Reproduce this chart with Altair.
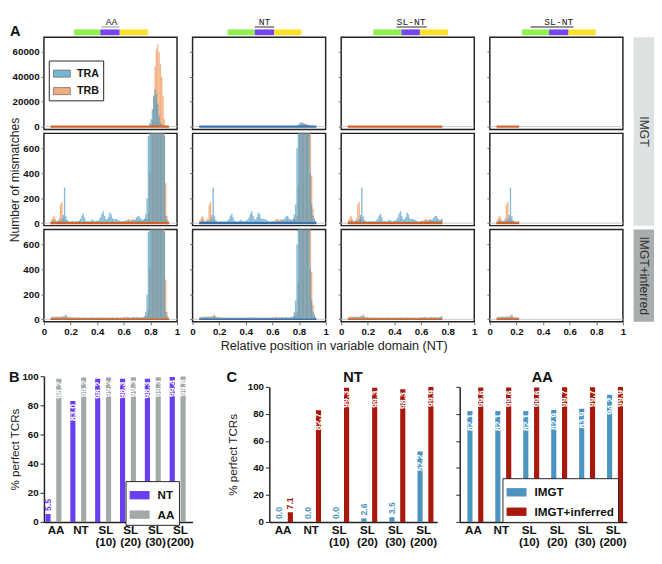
import altair as alt
import pandas as pd

FONT = "Liberation Sans"

# ---------------- Panel A: mismatch counts per 0.01 bin ----------------
BIN_WIDTH = 0.01
BINS = [round(0.05 + 0.01 * i, 2) for i in range(90)]  # bin starts 0.05 ... 0.94

# background region, bins 0.05 ... 0.76 (72 bins)
LOW_TRA_IMGT = [
    10, 15, 25, 15, 12, 18, 20, 22, 30, 65,
    285, 55, 25, 15, 12, 14, 18, 12, 15, 18,
    14, 22, 35, 60, 75, 45, 20, 15, 12, 16,
    22, 28, 20, 14, 18, 22, 28, 45, 75, 95,
    60, 35, 30, 50, 85, 70, 40, 30, 35, 32,
    25, 20, 15, 12, 15, 18, 12, 15, 20, 18,
    15, 22, 25, 30, 45, 55, 60, 40, 30, 25,
    35, 70]
LOW_TRB_IMGT = [
    25, 45, 60, 35, 18, 22, 40, 150, 170, 45,
    25, 18, 15, 12, 10, 12, 15, 10, 12, 10,
    12, 15, 12, 10, 14, 12, 10, 12, 15, 12,
    10, 12, 10, 12, 15, 12, 10, 12, 14, 12,
    10, 12, 15, 12, 10, 12, 14, 12, 10, 12,
    15, 12, 10, 12, 15, 18, 22, 28, 35, 32,
    25, 35, 28, 20, 15, 18, 22, 18, 15, 20,
    30, 35]
LOW_TRA_INF = [
    12, 15, 10, 18, 14, 20, 16, 12, 18, 22,
    15, 25, 18, 12, 15, 10, 14, 12, 16, 10,
    12, 15, 10, 14, 12, 10, 15, 12, 10, 14,
    12, 16, 10, 12, 14, 10, 12, 15, 12, 14,
    10, 12, 15, 12, 14, 10, 12, 15, 10, 12,
    14, 10, 12, 10, 14, 12, 10, 15, 12, 10,
    14, 12, 16, 12, 14, 18, 15, 12, 14, 18,
    25, 60]
LOW_TRB_INF = [
    15, 20, 25, 18, 22, 15, 20, 25, 18, 22,
    30, 40, 25, 15, 20, 14, 12, 15, 10, 12,
    14, 12, 10, 15, 12, 14, 10, 12, 15, 12,
    10, 14, 12, 10, 12, 15, 12, 10, 14, 12,
    15, 12, 10, 12, 14, 12, 15, 10, 12, 14,
    12, 10, 15, 12, 14, 18, 15, 20, 16, 14,
    12, 15, 18, 14, 12, 15, 12, 14, 16, 12,
    15, 30]

# peak region, bins 0.77 ... 0.94 (18 bins)
AA_PEAK_TRA = [200, 700, 2500, 6000, 14000, 24000, 30000, 26000, 18000,
               9000, 3500, 1800, 1000, 700, 60, 25, 10, 0]
AA_PEAK_TRB = [30, 80, 400, 1500, 5000, 25000, 48000, 62000, 66000,
               60000, 50000, 40000, 25000, 6000, 320, 60, 20, 0]
NT_PEAK_TRA = [150, 600, 1500, 2800, 3400, 3200, 2500, 1800, 1200,
               900, 750, 400, 150, 60, 30, 15, 0, 0]
NT_PEAK_TRB = [20, 60, 300, 800, 1500, 2200, 2500, 2400, 2200,
               1800, 1200, 900, 380, 115, 40, 15, 0, 0]

COLUMN_LABELS = ["AA", "NT", "SL-NT", "SL-NT"]
COLUMN_XMAX = [1.0, 1.0, 0.755, 0.215]
ROW_LABELS = ["IMGT", "IMGT+inferred"]

# ---------------- Panels B and C ----------------
CATS = ["AA", "NT", "SL (10)", "SL (20)", "SL (30)", "SL (200)"]
B_SERIES = ["NT", "AA"]
B_NT = [5.5, 83.0, 98.2, 98.3, 98.3, 99.4]
B_AA = [98.2, 99.2, 99.2, 99.3, 99.3, 99.8]

C_SERIES = ["IMGT", "IMGT+inferred"]
C_NT_IMGT = [0.0, 0.0, 0.0, 2.6, 3.5, 52.2]
C_NT_INF = [7.1, 82.7, 99.3, 99.3, 98.3, 99.9]
C_AA_IMGT = [82.1, 82.1, 82.1, 82.9, 83.9, 94.2]
C_AA_INF = [99.6, 99.6, 99.6, 99.7, 99.7, 99.9]

# ---------------- styles ----------------
TRA_COLOR = "#3f98c4"
TRB_COLOR = "#f08a48"
GREEN, PURPLE, YELLOW = "#8ff04f", "#7446ee", "#ffdf2a"
B_COLORS = ["#6a3ff0", "#a3a8a8"]
C_COLORS = ["#4d93bf", "#a8190c"]
WIDE = "M-1,-0.42L1,-0.42L1,0.42L-1,0.42Z"

DECO = [
    dict(segs=[(31, 58), (58, 78), (78, 107)], u=(59, 78), cx=69.5, line="#aab4bd"),
    dict(segs=[(36, 64), (64, 84), (84, 112)], u=(64, 84), cx=74, line="#6f6f6f"),
    dict(segs=[(33, 62), (62, 81), (81, 110)], u=(57, 88), cx=72, line="#6f6f6f"),
    dict(segs=[(33, 61), (61, 81), (81, 109)], u=(42, 86), cx=71, line="#6f6f6f"),
]
BAND_COLORS = ["#d0622a", "#3a72b0", "#d0622a", "#d0622a"]
PH = 95      # histogram panel height
BH = 150     # bar panel height

ONE = pd.DataFrame({"k": [0]})
XS = alt.Scale(domain=[0, 1], nice=False, zero=False)
CHAIN_SCALE = alt.Scale(domain=["TRA", "TRB"], range=[TRA_COLOR, TRB_COLOR])


def hist_frame(tra, trb, xmax):
    recs = []
    for chain, vals in (("TRB", trb), ("TRA", tra)):
        for b, v in zip(BINS, vals):
            if b < xmax:
                recs.append({"x0": b, "x1": round(b + BIN_WIDTH, 3), "chain": chain, "n": v})
    return pd.DataFrame(recs)


def deco_layers(col):
    d = DECO[col]
    out = []
    for (a, b), colr in zip(d["segs"], [GREEN, PURPLE, YELLOW]):
        out.append(alt.Chart(ONE).mark_rect(color=colr).encode(
            x=alt.value(a), x2=alt.value(b), y=alt.value(-8), y2=alt.value(-2)))
    out.append(alt.Chart(ONE).mark_rule(color=d["line"], strokeWidth=1.5).encode(
        x=alt.value(d["u"][0]), x2=alt.value(d["u"][1]), y=alt.value(-10.5)))
    out.append(alt.Chart(ONE).mark_text(
        text=COLUMN_LABELS[col], font="Liberation Mono", fontSize=10, color="#222",
        align="center", baseline="alphabetic").encode(x=alt.value(d["cx"]), y=alt.value(-13)))
    return out


def hist_panel(df, row, col):
    ydom = [-2300, 71800] if row == 0 else [-20, 720]
    yvals = [0, 20000, 40000, 60000] if row == 0 else [0, 200, 400, 600]
    ys = alt.Scale(domain=ydom, nice=False, zero=False)
    yaxis = alt.Axis(values=yvals, format="d", labels=(col == 0), tickSize=3,
                     tickColor="#666", domain=False, grid=False, labelFontSize=10,
                     labelFontWeight="bold", labelColor="#111", labelPadding=2,
                     title=("Number of mismatches" if (col == 0 and row == 1) else None),
                     titleFontSize=12.5, titleFontWeight="normal", titleColor="#222",
                     titlePadding=1)
    if row == 2:
        xaxis = alt.Axis(values=[0, 0.2, 0.4, 0.6, 0.8, 1], format="~g", tickSize=3,
                         tickColor="#666", domain=False, grid=False, labelFontSize=10,
                         labelFontWeight="bold", labelColor="#111", labelPadding=2,
                         labelFlush=False, title=None)
    else:
        xaxis = None
    if row == 0 and col == 0:
        legend = alt.Legend(title=None, orient="none", legendX=5, legendY=24,
                            direction="vertical", symbolType=WIDE, symbolSize=300,
                            symbolStrokeColor="#333", symbolStrokeWidth=0.8,
                            symbolOpacity=0.7, labelFontSize=11, labelFontWeight="bold",
                            labelColor="#111", strokeColor="#222", fillColor="white",
                            padding=4, rowPadding=3, labelOffset=6)
    else:
        legend = None
    bars = alt.Chart(df).mark_bar(opacity=0.66, clip=True).encode(
        x=alt.X("x0:Q", scale=XS, axis=xaxis),
        x2="x1:Q",
        y=alt.Y("n:Q", scale=ys, axis=yaxis, stack=None),
        y2=alt.Y2(datum=0),
        color=alt.Color("chain:N", scale=CHAIN_SCALE, legend=legend),
    )
    zero = alt.Chart(ONE).mark_rule(color="#c8c8c8", strokeWidth=1).encode(
        y=alt.Y(datum=0, scale=ys, axis=yaxis))
    band = alt.Chart(df).transform_filter("datum.n > 0").mark_rule(
        color=BAND_COLORS[col], strokeWidth=2.2 if row < 2 else 1.6).encode(
        x=alt.X("x0:Q", aggregate="min", scale=XS, axis=xaxis),
        x2=alt.X2("x1", aggregate="max"),
        y=alt.Y(datum=0, scale=ys, axis=yaxis))
    layers = [bars, zero, band]
    if row == 0:
        layers += deco_layers(col)
        if col == 0:
            layers.append(alt.Chart(ONE).mark_text(
                text="A", fontSize=15, fontWeight="bold", align="left",
                baseline="alphabetic", color="#111").encode(x=alt.value(-35), y=alt.value(-1)))
    return alt.layer(*layers).properties(
        width=137, height=PH, view=alt.ViewBackground(stroke="#222", strokeWidth=1.5))


def strip(label, fill, h):
    return alt.Chart(ONE).mark_text(
        text=label, angle=90, fontSize=12.5, color="#333", align="center",
        baseline="middle").encode(x=alt.value(10.5), y=alt.value(h / 2)).properties(
        width=21, height=h, view=alt.ViewBackground(fill=fill, stroke=None))


columns = []
for c in range(4):
    if c == 0:
        imgt = hist_frame(LOW_TRA_IMGT + AA_PEAK_TRA, LOW_TRB_IMGT + AA_PEAK_TRB, COLUMN_XMAX[c])
        inf = hist_frame(LOW_TRA_INF + AA_PEAK_TRA, LOW_TRB_INF + AA_PEAK_TRB, COLUMN_XMAX[c])
    else:
        imgt = hist_frame(LOW_TRA_IMGT + NT_PEAK_TRA, LOW_TRB_IMGT + NT_PEAK_TRB, COLUMN_XMAX[c])
        inf = hist_frame(LOW_TRA_INF + NT_PEAK_TRA, LOW_TRB_INF + NT_PEAK_TRB, COLUMN_XMAX[c])
    columns.append(alt.vconcat(hist_panel(imgt, 0, c), hist_panel(imgt, 1, c),
                               hist_panel(inf, 2, c), spacing=4, bounds="flush"
                               ).resolve_scale(color="independent"))

strip_col = alt.vconcat(strip(ROW_LABELS[0], "#dde1e1", 2 * PH + 4),
                        strip(ROW_LABELS[1], "#a9adad", PH),
                        spacing=4, bounds="flush")

grid = alt.hconcat(*columns, strip_col, spacing=7,
                   title=alt.TitleParams("Relative position in variable domain (NT)",
                                         orient="bottom", anchor="middle", fontSize=13,
                                         fontWeight="normal", color="#222", offset=3, dx=3)
                   ).resolve_scale(color="independent")


# ---------------- bar panels ----------------
def bar_df(series, a, b):
    recs = []
    for cat, va, vb in zip(CATS, a, b):
        recs.append({"cat": cat, "series": series[0], "v": va})
        recs.append({"cat": cat, "series": series[1], "v": vb})
    return pd.DataFrame(recs)


def bar_chart(df, series, colors, width, yrange, ylabels, ytitle, ytitle_pad,
              legend_xy, pin, pout, opad, texts):
    cscale = alt.Scale(domain=series, range=colors)
    yscale = alt.Scale(domain=[0, 100], nice=False, range=yrange) if yrange else \
        alt.Scale(domain=[0, 100], nice=False)
    x = alt.X("cat:N", sort=CATS, scale=alt.Scale(paddingInner=pin, paddingOuter=pout),
              axis=alt.Axis(title=None, labelAngle=0, labelExpr="split(datum.label, ' ')",
                            labelFontSize=12, labelFontWeight="bold", labelColor="#111",
                            ticks=False, domainColor="#222", domainWidth=1.5,
                            labelPadding=3, labelLineHeight=12, labelBaseline="top"))
    xo = alt.XOffset("series:N", sort=series, scale=alt.Scale(paddingInner=opad))
    y = alt.Y("v:Q", scale=yscale,
              axis=alt.Axis(values=[0, 20, 40, 60, 80, 100], labels=ylabels, tickSize=4,
                            tickColor="#222", domainColor="#222", domainWidth=1.5,
                            grid=False, labelFontSize=10, labelFontWeight="bold",
                            labelColor="#111", labelPadding=2, title=ytitle,
                            titleFontSize=12, titleFontWeight="normal", titleColor="#222",
                            titlePadding=ytitle_pad))
    if legend_xy:
        legend = alt.Legend(title=None, orient="none", legendX=legend_xy[0],
                            legendY=legend_xy[1], direction="vertical", symbolType=WIDE,
                            symbolSize=420, symbolStrokeWidth=0, symbolOpacity=1,
                            labelFontSize=12, labelFontWeight="bold", labelColor="#111",
                            strokeColor="#222", fillColor="white", padding=4,
                            rowPadding=3, labelOffset=8)
    else:
        legend = None
    base = alt.Chart(df).encode(x=x, xOffset=xo, y=y)
    bars = base.mark_bar().encode(
        color=alt.Color("series:N", scale=cscale, sort=series, legend=legend))
    inside = base.transform_filter("datum.v > 20").mark_text(
        angle=270, align="right", baseline="middle", dx=-3, fontSize=9,
        fontWeight="bold", color="white").encode(text=alt.Text("v:Q", format=".1f"))
    outside = base.transform_filter("datum.v <= 20").mark_text(
        angle=270, align="left", baseline="middle", dx=3, fontSize=9,
        fontWeight="bold").encode(
        text=alt.Text("v:Q", format=".1f"),
        color=alt.condition(f"datum.series == '{series[0]}'", alt.value(colors[0]),
                            alt.value(colors[1])))
    layers = [bars, inside, outside]
    for (t, tx, ty, al) in texts:
        layers.append(alt.Chart(ONE).mark_text(
            text=t, fontSize=15, fontWeight="bold", align=al, baseline="alphabetic",
            color="#111").encode(x=alt.value(tx), y=alt.value(ty)))
    return alt.layer(*layers).properties(width=width, height=BH)


b_chart = bar_chart(bar_df(B_SERIES, B_NT, B_AA), B_SERIES, B_COLORS, 153, None, True,
                    "% perfect TCRs", 1, (84, 108), 0.14, 0.06, 0.05,
                    [("B", -36, 6, "left")])
cnt_chart = bar_chart(bar_df(C_SERIES, C_NT_IMGT, C_NT_INF), C_SERIES, C_COLORS, 173,
                      [BH, 11], True, "% perfect TCRs", 8, None, 0.18, 0.08, 0.03,
                      [("C", -44, 6, "left"), ("NT", 86, 6, "center")])
caa_chart = bar_chart(bar_df(C_SERIES, C_AA_IMGT, C_AA_INF), C_SERIES, C_COLORS, 172,
                      [BH, 11], False, None, 2, (44, 105), 0.18, 0.08, 0.03,
                      [("AA", 85, 6, "center")])

inner_c = alt.hconcat(cnt_chart, caa_chart, spacing=18).resolve_scale(color="independent")
bottom = alt.hconcat(b_chart, inner_c, spacing=34).resolve_scale(color="independent")

chart = alt.vconcat(grid, bottom, spacing=18).resolve_scale(
    color="independent").properties(padding=0).configure(
    font=FONT).configure_view(stroke=None)

chart.save("out.html", embed_options={"renderer": "svg", "actions": False})
